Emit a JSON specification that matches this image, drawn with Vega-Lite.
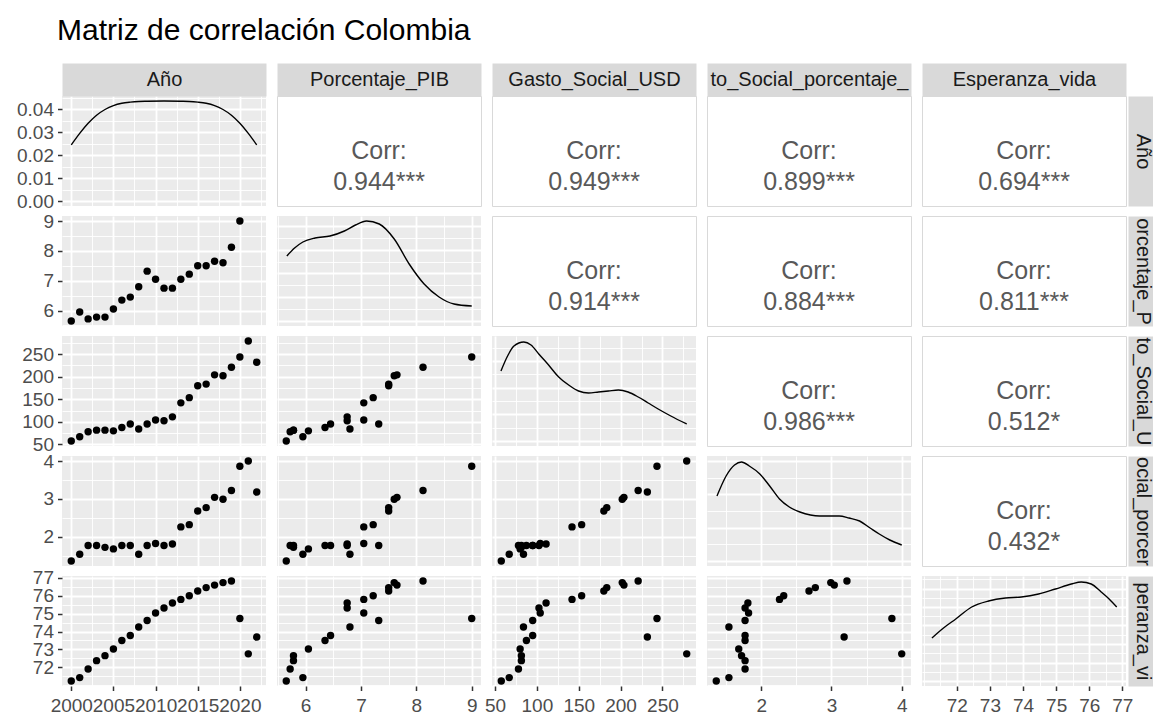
{
  "$schema": "https://vega.github.io/schema/vega-lite/v6.json",
  "background": "white",
  "padding": {"left": 16, "top": 16, "right": 0, "bottom": 0},
  "title": {"text": "Matriz de correlación Colombia", "anchor": "start", "frame": "group", "fontSize": 30, "fontWeight": "normal", "color": "#000000", "offset": 23, "dx": -5},
  "config": {
    "font": "Liberation Sans",
    "view": {"stroke": null, "fill": "#EBEBEB"},
    "axis": {"domain": false, "grid": true, "gridColor": "#FFFFFF", "labelFontSize": 19, "labelColor": "#4D4D4D", "tickColor": "#333333", "tickSize": 4.5, "tickWidth": 1.5, "labelPadding": 4, "labelOverlap": false, "labelFlush": false, "labelBound": false},
    "axisX": {"labelPadding": 6}
  },
  "datasets": {
    "colombia": [
      {"Año": 2000, "Porcentaje_PIB": 5.65, "Gasto_Social_USD": 57.5, "Gasto_Social_porcentaje_PIB": 1.36, "Esperanza_vida": 71.23},
      {"Año": 2001, "Porcentaje_PIB": 5.95, "Gasto_Social_USD": 67, "Gasto_Social_porcentaje_PIB": 1.54, "Esperanza_vida": 71.42},
      {"Año": 2002, "Porcentaje_PIB": 5.72, "Gasto_Social_USD": 78, "Gasto_Social_porcentaje_PIB": 1.77, "Esperanza_vida": 71.9},
      {"Año": 2003, "Porcentaje_PIB": 5.78, "Gasto_Social_USD": 81.5, "Gasto_Social_porcentaje_PIB": 1.77, "Esperanza_vida": 72.37},
      {"Año": 2004, "Porcentaje_PIB": 5.78, "Gasto_Social_USD": 81.5, "Gasto_Social_porcentaje_PIB": 1.72, "Esperanza_vida": 72.65},
      {"Año": 2005, "Porcentaje_PIB": 6.05, "Gasto_Social_USD": 80, "Gasto_Social_porcentaje_PIB": 1.68, "Esperanza_vida": 73.02},
      {"Año": 2006, "Porcentaje_PIB": 6.35, "Gasto_Social_USD": 87.5, "Gasto_Social_porcentaje_PIB": 1.77, "Esperanza_vida": 73.5},
      {"Año": 2007, "Porcentaje_PIB": 6.45, "Gasto_Social_USD": 95, "Gasto_Social_porcentaje_PIB": 1.77, "Esperanza_vida": 73.78},
      {"Año": 2008, "Porcentaje_PIB": 6.8, "Gasto_Social_USD": 84, "Gasto_Social_porcentaje_PIB": 1.54, "Esperanza_vida": 74.25},
      {"Año": 2009, "Porcentaje_PIB": 7.32, "Gasto_Social_USD": 95, "Gasto_Social_porcentaje_PIB": 1.77, "Esperanza_vida": 74.62},
      {"Año": 2010, "Porcentaje_PIB": 7.05, "Gasto_Social_USD": 104, "Gasto_Social_porcentaje_PIB": 1.82, "Esperanza_vida": 75.04},
      {"Año": 2011, "Porcentaje_PIB": 6.75, "Gasto_Social_USD": 102.5, "Gasto_Social_porcentaje_PIB": 1.77, "Esperanza_vida": 75.32},
      {"Año": 2012, "Porcentaje_PIB": 6.75, "Gasto_Social_USD": 111, "Gasto_Social_porcentaje_PIB": 1.81, "Esperanza_vida": 75.6},
      {"Año": 2013, "Porcentaje_PIB": 7.05, "Gasto_Social_USD": 142, "Gasto_Social_porcentaje_PIB": 2.26, "Esperanza_vida": 75.8},
      {"Año": 2014, "Porcentaje_PIB": 7.22, "Gasto_Social_USD": 153.5, "Gasto_Social_porcentaje_PIB": 2.32, "Esperanza_vida": 76.0},
      {"Año": 2015, "Porcentaje_PIB": 7.5, "Gasto_Social_USD": 180, "Gasto_Social_porcentaje_PIB": 2.68, "Esperanza_vida": 76.27},
      {"Año": 2016, "Porcentaje_PIB": 7.5, "Gasto_Social_USD": 183.5, "Gasto_Social_porcentaje_PIB": 2.77, "Esperanza_vida": 76.46},
      {"Año": 2017, "Porcentaje_PIB": 7.65, "Gasto_Social_USD": 204, "Gasto_Social_porcentaje_PIB": 3.04, "Esperanza_vida": 76.6},
      {"Año": 2018, "Porcentaje_PIB": 7.6, "Gasto_Social_USD": 202, "Gasto_Social_porcentaje_PIB": 2.99, "Esperanza_vida": 76.74},
      {"Año": 2019, "Porcentaje_PIB": 8.12, "Gasto_Social_USD": 221, "Gasto_Social_porcentaje_PIB": 3.22, "Esperanza_vida": 76.83},
      {"Año": 2020, "Porcentaje_PIB": 9.0, "Gasto_Social_USD": 243.5, "Gasto_Social_porcentaje_PIB": 3.86, "Esperanza_vida": 74.73},
      {"Año": 2021, "Porcentaje_PIB": null, "Gasto_Social_USD": 279, "Gasto_Social_porcentaje_PIB": 4.0, "Esperanza_vida": 72.75},
      {"Año": 2022, "Porcentaje_PIB": null, "Gasto_Social_USD": 232, "Gasto_Social_porcentaje_PIB": 3.18, "Esperanza_vida": 73.69}
    ],
    "dens_anio": [
      {"valor": 2000, "densidad": 0.0244}, {"valor": 2001, "densidad": 0.0294}, {"valor": 2002, "densidad": 0.0338}, {"valor": 2003, "densidad": 0.0373}, {"valor": 2004, "densidad": 0.0398}, {"valor": 2005, "densidad": 0.0415}, {"valor": 2006, "densidad": 0.0425}, {"valor": 2007, "densidad": 0.043}, {"valor": 2008, "densidad": 0.0433}, {"valor": 2009, "densidad": 0.0434}, {"valor": 2011, "densidad": 0.0435}, {"valor": 2013, "densidad": 0.0434}, {"valor": 2014, "densidad": 0.0433}, {"valor": 2015, "densidad": 0.043}, {"valor": 2016, "densidad": 0.0425}, {"valor": 2017, "densidad": 0.0415}, {"valor": 2018, "densidad": 0.0398}, {"valor": 2019, "densidad": 0.0373}, {"valor": 2020, "densidad": 0.0338}, {"valor": 2021, "densidad": 0.0294}, {"valor": 2022, "densidad": 0.0244}
    ],
    "dens_pib": [
      {"valor": 5.66, "densidad": 0.65}, {"valor": 5.8, "densidad": 0.73}, {"valor": 5.95, "densidad": 0.79}, {"valor": 6.17, "densidad": 0.83}, {"valor": 6.44, "densidad": 0.85}, {"valor": 6.7, "densidad": 0.9}, {"valor": 6.9, "densidad": 0.96}, {"valor": 7.1, "densidad": 1.0}, {"valor": 7.33, "densidad": 0.97}, {"valor": 7.6, "densidad": 0.82}, {"valor": 7.87, "densidad": 0.57}, {"valor": 8.14, "densidad": 0.37}, {"valor": 8.41, "densidad": 0.24}, {"valor": 8.68, "densidad": 0.17}, {"valor": 9.0, "densidad": 0.15}
    ],
    "dens_usd": [
      {"valor": 57.1, "densidad": 0.7}, {"valor": 65, "densidad": 0.85}, {"valor": 72.6, "densidad": 0.95}, {"valor": 84.4, "densidad": 0.99}, {"valor": 93, "densidad": 0.96}, {"valor": 102.3, "densidad": 0.87}, {"valor": 114, "densidad": 0.76}, {"valor": 126.1, "densidad": 0.64}, {"valor": 138, "densidad": 0.56}, {"valor": 149.8, "densidad": 0.5}, {"valor": 161.7, "densidad": 0.48}, {"valor": 173.6, "densidad": 0.49}, {"valor": 185.5, "densidad": 0.5}, {"valor": 197.4, "densidad": 0.51}, {"valor": 209, "densidad": 0.49}, {"valor": 221.1, "densidad": 0.44}, {"valor": 233, "densidad": 0.38}, {"valor": 244.9, "densidad": 0.32}, {"valor": 260, "densidad": 0.25}, {"valor": 279, "densidad": 0.17}
    ],
    "dens_pct": [
      {"valor": 1.37, "densidad": 0.65}, {"valor": 1.5, "densidad": 0.85}, {"valor": 1.62, "densidad": 0.96}, {"valor": 1.72, "densidad": 0.99}, {"valor": 1.83, "densidad": 0.95}, {"valor": 1.98, "densidad": 0.87}, {"valor": 2.12, "densidad": 0.75}, {"valor": 2.26, "densidad": 0.62}, {"valor": 2.4, "densidad": 0.54}, {"valor": 2.55, "densidad": 0.49}, {"valor": 2.7, "densidad": 0.46}, {"valor": 2.83, "densidad": 0.45}, {"valor": 3.11, "densidad": 0.45}, {"valor": 3.25, "densidad": 0.43}, {"valor": 3.4, "densidad": 0.4}, {"valor": 3.55, "densidad": 0.33}, {"valor": 3.68, "densidad": 0.27}, {"valor": 3.83, "densidad": 0.21}, {"valor": 4.0, "densidad": 0.16}
    ],
    "dens_esp": [
      {"valor": 71.25, "densidad": 0.43}, {"valor": 71.6, "densidad": 0.53}, {"valor": 71.97, "densidad": 0.62}, {"valor": 72.45, "densidad": 0.74}, {"valor": 72.96, "densidad": 0.8}, {"valor": 73.47, "densidad": 0.83}, {"valor": 73.95, "densidad": 0.84}, {"valor": 74.47, "densidad": 0.87}, {"valor": 74.98, "densidad": 0.92}, {"valor": 75.46, "densidad": 0.97}, {"valor": 75.76, "densidad": 0.99}, {"valor": 76.06, "densidad": 0.97}, {"valor": 76.36, "densidad": 0.89}, {"valor": 76.6, "densidad": 0.82}, {"valor": 76.83, "densidad": 0.74}
    ],
    "correlaciones": [
      {"fila": "Año", "columna": "Porcentaje_PIB", "texto": "Corr:\n0.944***"},
      {"fila": "Año", "columna": "Gasto_Social_USD", "texto": "Corr:\n0.949***"},
      {"fila": "Año", "columna": "Gasto_Social_porcentaje_PIB", "texto": "Corr:\n0.899***"},
      {"fila": "Año", "columna": "Esperanza_vida", "texto": "Corr:\n0.694***"},
      {"fila": "Porcentaje_PIB", "columna": "Gasto_Social_USD", "texto": "Corr:\n0.914***"},
      {"fila": "Porcentaje_PIB", "columna": "Gasto_Social_porcentaje_PIB", "texto": "Corr:\n0.884***"},
      {"fila": "Porcentaje_PIB", "columna": "Esperanza_vida", "texto": "Corr:\n0.811***"},
      {"fila": "Gasto_Social_USD", "columna": "Gasto_Social_porcentaje_PIB", "texto": "Corr:\n0.986***"},
      {"fila": "Gasto_Social_USD", "columna": "Esperanza_vida", "texto": "Corr:\n0.512*"},
      {"fila": "Gasto_Social_porcentaje_PIB", "columna": "Esperanza_vida", "texto": "Corr:\n0.432*"}
    ]
  },
  "columns": 5,
  "spacing": {"row": 10, "column": 11},
  "bounds": "flush",
  "concat": [
    {"width": 204, "height": 110, "data": {"name": "dens_anio"},
     "mark": {"type": "line", "color": "black", "strokeWidth": 1.4, "interpolate": "monotone"},
     "encoding": {
       "x": {"field": "valor", "type": "quantitative", "scale": {"domain": [1998.9, 2023.1], "nice": false, "zero": false}, "axis": {"orient": "top", "title": "Año", "labels": false, "ticks": false, "values": [2000, 2002.5, 2005, 2007.5, 2010, 2012.5, 2015, 2017.5, 2020, 2022.5], "gridWidth": {"condition": {"test": "datum.value % 5 === 0", "value": 1.8}, "value": 0.9}, "domain": true, "domainColor": "#D9D9D9", "domainWidth": 33, "offset": 16.5, "titleFontSize": 20, "titleFontWeight": "normal", "titleColor": "#1A1A1A", "titleBaseline": "middle", "titleY": 0, "titlePadding": 0}},
       "y": {"field": "densidad", "type": "quantitative", "scale": {"domain": [-0.002175, 0.045675], "nice": false, "zero": false}, "axis": {"title": null, "values": [0, 0.005, 0.01, 0.015, 0.02, 0.025, 0.03, 0.035, 0.04, 0.045], "format": ".2f", "labelExpr": "round(datum.value * 1000) % 10 === 0 ? datum.label : ''", "tickOpacity": {"condition": {"test": "round(datum.value * 1000) % 10 === 0", "value": 1}, "value": 0}, "gridWidth": {"condition": {"test": "round(datum.value * 1000) % 10 === 0", "value": 1.8}, "value": 0.9}}}
     }},
    {"width": 204, "height": 110, "view": {"fill": "white", "stroke": "#D9D9D9"}, "data": {"name": "correlaciones"}, "transform": [{"filter": "datum.fila === 'Año' && datum.columna === 'Porcentaje_PIB'"}],
     "mark": {"type": "text", "fontSize": 25, "lineHeight": 31, "lineBreak": "\n", "color": "#595959"},
     "encoding": {"text": {"field": "texto", "type": "nominal"},
       "x": {"field": "columna", "type": "nominal", "axis": {"orient": "top", "title": "Porcentaje_PIB", "labels": false, "ticks": false, "grid": false, "domain": true, "domainColor": "#D9D9D9", "domainWidth": 33, "offset": 16.5, "titleFontSize": 20, "titleFontWeight": "normal", "titleColor": "#1A1A1A", "titleBaseline": "middle", "titleY": 0, "titlePadding": 0}}}},
    {"width": 204, "height": 110, "view": {"fill": "white", "stroke": "#D9D9D9"}, "data": {"name": "correlaciones"}, "transform": [{"filter": "datum.fila === 'Año' && datum.columna === 'Gasto_Social_USD'"}],
     "mark": {"type": "text", "fontSize": 25, "lineHeight": 31, "lineBreak": "\n", "color": "#595959"},
     "encoding": {"text": {"field": "texto", "type": "nominal"},
       "x": {"field": "columna", "type": "nominal", "axis": {"orient": "top", "title": "Gasto_Social_USD", "labels": false, "ticks": false, "grid": false, "domain": true, "domainColor": "#D9D9D9", "domainWidth": 33, "offset": 16.5, "titleFontSize": 20, "titleFontWeight": "normal", "titleColor": "#1A1A1A", "titleBaseline": "middle", "titleY": 0, "titlePadding": 0}}}},
    {"width": 204, "height": 110, "view": {"fill": "white", "stroke": "#D9D9D9"}, "data": {"name": "correlaciones"}, "transform": [{"filter": "datum.fila === 'Año' && datum.columna === 'Gasto_Social_porcentaje_PIB'"}],
     "mark": {"type": "text", "fontSize": 25, "lineHeight": 31, "lineBreak": "\n", "color": "#595959"},
     "encoding": {"text": {"field": "texto", "type": "nominal"},
       "x": {"field": "columna", "type": "nominal", "axis": {"orient": "top", "title": "to_Social_porcentaje_", "labels": false, "ticks": false, "grid": false, "domain": true, "domainColor": "#D9D9D9", "domainWidth": 33, "offset": 16.5, "titleFontSize": 20, "titleFontWeight": "normal", "titleColor": "#1A1A1A", "titleBaseline": "middle", "titleY": 0, "titlePadding": 0}}}},
    {"width": 204, "height": 110, "view": {"fill": "white", "stroke": "#D9D9D9"}, "data": {"name": "correlaciones"}, "transform": [{"filter": "datum.fila === 'Año' && datum.columna === 'Esperanza_vida'"}],
     "mark": {"type": "text", "fontSize": 25, "lineHeight": 31, "lineBreak": "\n", "color": "#595959"},
     "encoding": {"text": {"field": "texto", "type": "nominal"},
       "x": {"field": "columna", "type": "nominal", "axis": {"orient": "top", "title": "Esperanza_vida", "labels": false, "ticks": false, "grid": false, "domain": true, "domainColor": "#D9D9D9", "domainWidth": 33, "offset": 16.5, "titleFontSize": 20, "titleFontWeight": "normal", "titleColor": "#1A1A1A", "titleBaseline": "middle", "titleY": 0, "titlePadding": 0}},
       "y": {"field": "fila", "type": "nominal", "axis": {"orient": "right", "title": "Año", "labels": false, "ticks": false, "grid": false, "domain": true, "domainColor": "#D9D9D9", "domainWidth": 25, "offset": 14.5, "titleFontSize": 20, "titleFontWeight": "normal", "titleColor": "#1A1A1A", "titleAngle": 90, "titleBaseline": "middle", "titleAlign": "center", "titleX": 2, "titlePadding": 0}}}},

    {"width": 204, "height": 110, "data": {"name": "colombia"},
     "mark": {"type": "circle", "size": 55, "color": "black", "opacity": 1},
     "encoding": {
       "x": {"field": "Año", "type": "quantitative", "scale": {"domain": [1998.9, 2023.1], "nice": false, "zero": false}, "axis": {"title": null, "labels": false, "ticks": false, "values": [2000, 2002.5, 2005, 2007.5, 2010, 2012.5, 2015, 2017.5, 2020, 2022.5], "gridWidth": {"condition": {"test": "datum.value % 5 === 0", "value": 1.8}, "value": 0.9}}},
       "y": {"field": "Porcentaje_PIB", "type": "quantitative", "scale": {"domain": [5.4825, 9.1675], "nice": false, "zero": false}, "axis": {"title": null, "values": [5.5, 6, 6.5, 7, 7.5, 8, 8.5, 9], "labelExpr": "datum.value === round(datum.value) ? format(datum.value, 'd') : ''", "tickOpacity": {"condition": {"test": "datum.value === round(datum.value)", "value": 1}, "value": 0}, "gridWidth": {"condition": {"test": "datum.value === round(datum.value)", "value": 1.8}, "value": 0.9}}}
     }},
    {"width": 204, "height": 110, "data": {"name": "dens_pib"},
     "mark": {"type": "line", "color": "black", "strokeWidth": 1.4, "interpolate": "monotone"},
     "encoding": {
       "x": {"field": "valor", "type": "quantitative", "scale": {"domain": [5.4825, 9.1675], "nice": false, "zero": false}, "axis": {"title": null, "labels": false, "ticks": false, "values": [5.5, 6, 6.5, 7, 7.5, 8, 8.5, 9], "gridWidth": {"condition": {"test": "datum.value === round(datum.value)", "value": 1.8}, "value": 0.9}}},
       "y": {"field": "densidad", "type": "quantitative", "scale": {"domain": [-0.05, 1.05], "nice": false, "zero": false}, "axis": {"title": null, "labels": false, "ticks": false, "values": [0, 0.119, 0.238, 0.357, 0.476, 0.595, 0.714, 0.833, 0.952], "gridWidth": {"condition": {"test": "round(datum.value / 0.119) % 2 === 0", "value": 1.8}, "value": 0.9}}}
     }},
    {"width": 204, "height": 110, "view": {"fill": "white", "stroke": "#D9D9D9"}, "data": {"name": "correlaciones"}, "transform": [{"filter": "datum.fila === 'Porcentaje_PIB' && datum.columna === 'Gasto_Social_USD'"}],
     "mark": {"type": "text", "fontSize": 25, "lineHeight": 31, "lineBreak": "\n", "color": "#595959"},
     "encoding": {"text": {"field": "texto", "type": "nominal"}}},
    {"width": 204, "height": 110, "view": {"fill": "white", "stroke": "#D9D9D9"}, "data": {"name": "correlaciones"}, "transform": [{"filter": "datum.fila === 'Porcentaje_PIB' && datum.columna === 'Gasto_Social_porcentaje_PIB'"}],
     "mark": {"type": "text", "fontSize": 25, "lineHeight": 31, "lineBreak": "\n", "color": "#595959"},
     "encoding": {"text": {"field": "texto", "type": "nominal"}}},
    {"width": 204, "height": 110, "view": {"fill": "white", "stroke": "#D9D9D9"}, "data": {"name": "correlaciones"}, "transform": [{"filter": "datum.fila === 'Porcentaje_PIB' && datum.columna === 'Esperanza_vida'"}],
     "mark": {"type": "text", "fontSize": 25, "lineHeight": 31, "lineBreak": "\n", "color": "#595959"},
     "encoding": {"text": {"field": "texto", "type": "nominal"},
       "y": {"field": "fila", "type": "nominal", "axis": {"orient": "right", "title": "orcentaje_P", "labels": false, "ticks": false, "grid": false, "domain": true, "domainColor": "#D9D9D9", "domainWidth": 25, "offset": 14.5, "titleFontSize": 20, "titleFontWeight": "normal", "titleColor": "#1A1A1A", "titleAngle": 90, "titleBaseline": "middle", "titleAlign": "center", "titleX": 2, "titlePadding": 0}}}},

    {"width": 204, "height": 110, "data": {"name": "colombia"},
     "mark": {"type": "circle", "size": 55, "color": "black", "opacity": 1},
     "encoding": {
       "x": {"field": "Año", "type": "quantitative", "scale": {"domain": [1998.9, 2023.1], "nice": false, "zero": false}, "axis": {"title": null, "labels": false, "ticks": false, "values": [2000, 2002.5, 2005, 2007.5, 2010, 2012.5, 2015, 2017.5, 2020, 2022.5], "gridWidth": {"condition": {"test": "datum.value % 5 === 0", "value": 1.8}, "value": 0.9}}},
       "y": {"field": "Gasto_Social_USD", "type": "quantitative", "scale": {"domain": [46.4, 290.1], "nice": false, "zero": false}, "axis": {"title": null, "values": [50, 75, 100, 125, 150, 175, 200, 225, 250, 275], "format": "d", "labelExpr": "datum.value % 50 === 0 ? datum.label : ''", "tickOpacity": {"condition": {"test": "datum.value % 50 === 0", "value": 1}, "value": 0}, "gridWidth": {"condition": {"test": "datum.value % 50 === 0", "value": 1.8}, "value": 0.9}}}
     }},
    {"width": 204, "height": 110, "data": {"name": "colombia"},
     "mark": {"type": "circle", "size": 55, "color": "black", "opacity": 1},
     "encoding": {
       "x": {"field": "Porcentaje_PIB", "type": "quantitative", "scale": {"domain": [5.4825, 9.1675], "nice": false, "zero": false}, "axis": {"title": null, "labels": false, "ticks": false, "values": [5.5, 6, 6.5, 7, 7.5, 8, 8.5, 9], "gridWidth": {"condition": {"test": "datum.value === round(datum.value)", "value": 1.8}, "value": 0.9}}},
       "y": {"field": "Gasto_Social_USD", "type": "quantitative", "scale": {"domain": [46.4, 290.1], "nice": false, "zero": false}, "axis": {"title": null, "labels": false, "ticks": false, "values": [50, 75, 100, 125, 150, 175, 200, 225, 250, 275], "gridWidth": {"condition": {"test": "datum.value % 50 === 0", "value": 1.8}, "value": 0.9}}}
     }},
    {"width": 204, "height": 110, "data": {"name": "dens_usd"},
     "mark": {"type": "line", "color": "black", "strokeWidth": 1.4, "interpolate": "monotone"},
     "encoding": {
       "x": {"field": "valor", "type": "quantitative", "scale": {"domain": [46.4, 290.1], "nice": false, "zero": false}, "axis": {"title": null, "labels": false, "ticks": false, "values": [50, 75, 100, 125, 150, 175, 200, 225, 250, 275], "gridWidth": {"condition": {"test": "datum.value % 50 === 0", "value": 1.8}, "value": 0.9}}},
       "y": {"field": "densidad", "type": "quantitative", "scale": {"domain": [-0.05, 1.05], "nice": false, "zero": false}, "axis": {"title": null, "labels": false, "ticks": false, "values": [0, 0.1333, 0.2667, 0.4, 0.5333, 0.6667, 0.8, 0.9333], "gridWidth": {"condition": {"test": "round(datum.value / 0.1333) % 2 === 0", "value": 1.8}, "value": 0.9}}}
     }},
    {"width": 204, "height": 110, "view": {"fill": "white", "stroke": "#D9D9D9"}, "data": {"name": "correlaciones"}, "transform": [{"filter": "datum.fila === 'Gasto_Social_USD' && datum.columna === 'Gasto_Social_porcentaje_PIB'"}],
     "mark": {"type": "text", "fontSize": 25, "lineHeight": 31, "lineBreak": "\n", "color": "#595959"},
     "encoding": {"text": {"field": "texto", "type": "nominal"}}},
    {"width": 204, "height": 110, "view": {"fill": "white", "stroke": "#D9D9D9"}, "data": {"name": "correlaciones"}, "transform": [{"filter": "datum.fila === 'Gasto_Social_USD' && datum.columna === 'Esperanza_vida'"}],
     "mark": {"type": "text", "fontSize": 25, "lineHeight": 31, "lineBreak": "\n", "color": "#595959"},
     "encoding": {"text": {"field": "texto", "type": "nominal"},
       "y": {"field": "fila", "type": "nominal", "axis": {"orient": "right", "title": "to_Social_U", "labels": false, "ticks": false, "grid": false, "domain": true, "domainColor": "#D9D9D9", "domainWidth": 25, "offset": 14.5, "titleFontSize": 20, "titleFontWeight": "normal", "titleColor": "#1A1A1A", "titleAngle": 90, "titleBaseline": "middle", "titleAlign": "center", "titleX": 2, "titlePadding": 0}}}},

    {"width": 204, "height": 110, "data": {"name": "colombia"},
     "mark": {"type": "circle", "size": 55, "color": "black", "opacity": 1},
     "encoding": {
       "x": {"field": "Año", "type": "quantitative", "scale": {"domain": [1998.9, 2023.1], "nice": false, "zero": false}, "axis": {"title": null, "labels": false, "ticks": false, "values": [2000, 2002.5, 2005, 2007.5, 2010, 2012.5, 2015, 2017.5, 2020, 2022.5], "gridWidth": {"condition": {"test": "datum.value % 5 === 0", "value": 1.8}, "value": 0.9}}},
       "y": {"field": "Gasto_Social_porcentaje_PIB", "type": "quantitative", "scale": {"domain": [1.228, 4.132], "nice": false, "zero": false}, "axis": {"title": null, "values": [1.5, 2, 2.5, 3, 3.5, 4], "labelExpr": "datum.value === round(datum.value) ? format(datum.value, 'd') : ''", "tickOpacity": {"condition": {"test": "datum.value === round(datum.value)", "value": 1}, "value": 0}, "gridWidth": {"condition": {"test": "datum.value === round(datum.value)", "value": 1.8}, "value": 0.9}}}
     }},
    {"width": 204, "height": 110, "data": {"name": "colombia"},
     "mark": {"type": "circle", "size": 55, "color": "black", "opacity": 1},
     "encoding": {
       "x": {"field": "Porcentaje_PIB", "type": "quantitative", "scale": {"domain": [5.4825, 9.1675], "nice": false, "zero": false}, "axis": {"title": null, "labels": false, "ticks": false, "values": [5.5, 6, 6.5, 7, 7.5, 8, 8.5, 9], "gridWidth": {"condition": {"test": "datum.value === round(datum.value)", "value": 1.8}, "value": 0.9}}},
       "y": {"field": "Gasto_Social_porcentaje_PIB", "type": "quantitative", "scale": {"domain": [1.228, 4.132], "nice": false, "zero": false}, "axis": {"title": null, "labels": false, "ticks": false, "values": [1.5, 2, 2.5, 3, 3.5, 4], "gridWidth": {"condition": {"test": "datum.value === round(datum.value)", "value": 1.8}, "value": 0.9}}}
     }},
    {"width": 204, "height": 110, "data": {"name": "colombia"},
     "mark": {"type": "circle", "size": 55, "color": "black", "opacity": 1},
     "encoding": {
       "x": {"field": "Gasto_Social_USD", "type": "quantitative", "scale": {"domain": [46.4, 290.1], "nice": false, "zero": false}, "axis": {"title": null, "labels": false, "ticks": false, "values": [50, 75, 100, 125, 150, 175, 200, 225, 250, 275], "gridWidth": {"condition": {"test": "datum.value % 50 === 0", "value": 1.8}, "value": 0.9}}},
       "y": {"field": "Gasto_Social_porcentaje_PIB", "type": "quantitative", "scale": {"domain": [1.228, 4.132], "nice": false, "zero": false}, "axis": {"title": null, "labels": false, "ticks": false, "values": [1.5, 2, 2.5, 3, 3.5, 4], "gridWidth": {"condition": {"test": "datum.value === round(datum.value)", "value": 1.8}, "value": 0.9}}}
     }},
    {"width": 204, "height": 110, "data": {"name": "dens_pct"},
     "mark": {"type": "line", "color": "black", "strokeWidth": 1.4, "interpolate": "monotone"},
     "encoding": {
       "x": {"field": "valor", "type": "quantitative", "scale": {"domain": [1.228, 4.132], "nice": false, "zero": false}, "axis": {"title": null, "labels": false, "ticks": false, "values": [1.5, 2, 2.5, 3, 3.5, 4], "gridWidth": {"condition": {"test": "datum.value === round(datum.value)", "value": 1.8}, "value": 0.9}}},
       "y": {"field": "densidad", "type": "quantitative", "scale": {"domain": [-0.05, 1.05], "nice": false, "zero": false}, "axis": {"title": null, "labels": false, "ticks": false, "values": [0, 0.1667, 0.3333, 0.5, 0.6667, 0.8333, 1], "gridWidth": {"condition": {"test": "round(datum.value / 0.1667) % 2 === 0", "value": 1.8}, "value": 0.9}}}
     }},
    {"width": 204, "height": 110, "view": {"fill": "white", "stroke": "#D9D9D9"}, "data": {"name": "correlaciones"}, "transform": [{"filter": "datum.fila === 'Gasto_Social_porcentaje_PIB' && datum.columna === 'Esperanza_vida'"}],
     "mark": {"type": "text", "fontSize": 25, "lineHeight": 31, "lineBreak": "\n", "color": "#595959"},
     "encoding": {"text": {"field": "texto", "type": "nominal"},
       "y": {"field": "fila", "type": "nominal", "axis": {"orient": "right", "title": "ocial_porcer", "labels": false, "ticks": false, "grid": false, "domain": true, "domainColor": "#D9D9D9", "domainWidth": 25, "offset": 14.5, "titleFontSize": 20, "titleFontWeight": "normal", "titleColor": "#1A1A1A", "titleAngle": 90, "titleBaseline": "middle", "titleAlign": "center", "titleX": 2, "titlePadding": 0}}}},

    {"width": 204, "height": 110, "data": {"name": "colombia"},
     "mark": {"type": "circle", "size": 55, "color": "black", "opacity": 1},
     "encoding": {
       "x": {"field": "Año", "type": "quantitative", "scale": {"domain": [1998.9, 2023.1], "nice": false, "zero": false}, "axis": {"title": null, "values": [2000, 2002.5, 2005, 2007.5, 2010, 2012.5, 2015, 2017.5, 2020, 2022.5], "format": "d", "labelExpr": "datum.value % 5 === 0 ? datum.label : ''", "tickOpacity": {"condition": {"test": "datum.value % 5 === 0", "value": 1}, "value": 0}, "gridWidth": {"condition": {"test": "datum.value % 5 === 0", "value": 1.8}, "value": 0.9}}},
       "y": {"field": "Esperanza_vida", "type": "quantitative", "scale": {"domain": [70.95, 77.11], "nice": false, "zero": false}, "axis": {"title": null, "values": [71, 71.5, 72, 72.5, 73, 73.5, 74, 74.5, 75, 75.5, 76, 76.5, 77], "labelExpr": "datum.value === round(datum.value) && datum.value > 71 ? format(datum.value, 'd') : ''", "tickOpacity": {"condition": {"test": "datum.value === round(datum.value) && datum.value > 71", "value": 1}, "value": 0}, "gridWidth": {"condition": {"test": "datum.value === round(datum.value) && datum.value > 71", "value": 1.8}, "value": 0.9}}}
     }},
    {"width": 204, "height": 110, "data": {"name": "colombia"},
     "mark": {"type": "circle", "size": 55, "color": "black", "opacity": 1},
     "encoding": {
       "x": {"field": "Porcentaje_PIB", "type": "quantitative", "scale": {"domain": [5.4825, 9.1675], "nice": false, "zero": false}, "axis": {"title": null, "values": [5.5, 6, 6.5, 7, 7.5, 8, 8.5, 9], "labelExpr": "datum.value === round(datum.value) ? format(datum.value, 'd') : ''", "tickOpacity": {"condition": {"test": "datum.value === round(datum.value)", "value": 1}, "value": 0}, "gridWidth": {"condition": {"test": "datum.value === round(datum.value)", "value": 1.8}, "value": 0.9}}},
       "y": {"field": "Esperanza_vida", "type": "quantitative", "scale": {"domain": [70.95, 77.11], "nice": false, "zero": false}, "axis": {"title": null, "labels": false, "ticks": false, "values": [71, 71.5, 72, 72.5, 73, 73.5, 74, 74.5, 75, 75.5, 76, 76.5, 77], "gridWidth": {"condition": {"test": "datum.value === round(datum.value) && datum.value > 71", "value": 1.8}, "value": 0.9}}}
     }},
    {"width": 204, "height": 110, "data": {"name": "colombia"},
     "mark": {"type": "circle", "size": 55, "color": "black", "opacity": 1},
     "encoding": {
       "x": {"field": "Gasto_Social_USD", "type": "quantitative", "scale": {"domain": [46.4, 290.1], "nice": false, "zero": false}, "axis": {"title": null, "values": [50, 75, 100, 125, 150, 175, 200, 225, 250, 275], "format": "d", "labelExpr": "datum.value % 50 === 0 ? datum.label : ''", "tickOpacity": {"condition": {"test": "datum.value % 50 === 0", "value": 1}, "value": 0}, "gridWidth": {"condition": {"test": "datum.value % 50 === 0", "value": 1.8}, "value": 0.9}}},
       "y": {"field": "Esperanza_vida", "type": "quantitative", "scale": {"domain": [70.95, 77.11], "nice": false, "zero": false}, "axis": {"title": null, "labels": false, "ticks": false, "values": [71, 71.5, 72, 72.5, 73, 73.5, 74, 74.5, 75, 75.5, 76, 76.5, 77], "gridWidth": {"condition": {"test": "datum.value === round(datum.value) && datum.value > 71", "value": 1.8}, "value": 0.9}}}
     }},
    {"width": 204, "height": 110, "data": {"name": "colombia"},
     "mark": {"type": "circle", "size": 55, "color": "black", "opacity": 1},
     "encoding": {
       "x": {"field": "Gasto_Social_porcentaje_PIB", "type": "quantitative", "scale": {"domain": [1.228, 4.132], "nice": false, "zero": false}, "axis": {"title": null, "values": [1.5, 2, 2.5, 3, 3.5, 4], "labelExpr": "datum.value === round(datum.value) ? format(datum.value, 'd') : ''", "tickOpacity": {"condition": {"test": "datum.value === round(datum.value)", "value": 1}, "value": 0}, "gridWidth": {"condition": {"test": "datum.value === round(datum.value)", "value": 1.8}, "value": 0.9}}},
       "y": {"field": "Esperanza_vida", "type": "quantitative", "scale": {"domain": [70.95, 77.11], "nice": false, "zero": false}, "axis": {"title": null, "labels": false, "ticks": false, "values": [71, 71.5, 72, 72.5, 73, 73.5, 74, 74.5, 75, 75.5, 76, 76.5, 77], "gridWidth": {"condition": {"test": "datum.value === round(datum.value) && datum.value > 71", "value": 1.8}, "value": 0.9}}}
     }},
    {"width": 204, "height": 110, "data": {"name": "dens_esp"},
     "mark": {"type": "line", "color": "black", "strokeWidth": 1.4, "interpolate": "monotone"},
     "encoding": {
       "x": {"field": "valor", "type": "quantitative", "scale": {"domain": [70.95, 77.11], "nice": false, "zero": false}, "axis": {"title": null, "values": [71, 71.5, 72, 72.5, 73, 73.5, 74, 74.5, 75, 75.5, 76, 76.5, 77], "labelExpr": "datum.value === round(datum.value) && datum.value > 71 ? format(datum.value, 'd') : ''", "tickOpacity": {"condition": {"test": "datum.value === round(datum.value) && datum.value > 71", "value": 1}, "value": 0}, "gridWidth": {"condition": {"test": "datum.value === round(datum.value) && datum.value > 71", "value": 1.8}, "value": 0.9}}},
       "y": {"field": "densidad", "type": "quantitative", "scale": {"domain": [-0.05, 1.05], "nice": false, "zero": false}, "axis": {"orient": "right", "title": "peranza_vi", "labels": false, "ticks": false, "values": [0, 0.0925, 0.185, 0.2775, 0.37, 0.4625, 0.555, 0.6475, 0.74, 0.8325, 0.925, 1.0175], "gridWidth": {"condition": {"test": "round(datum.value / 0.0925) % 2 === 0", "value": 1.8}, "value": 0.9}, "domain": true, "domainColor": "#D9D9D9", "domainWidth": 25, "offset": 14.5, "titleFontSize": 20, "titleFontWeight": "normal", "titleColor": "#1A1A1A", "titleAngle": 90, "titleBaseline": "middle", "titleAlign": "center", "titleX": 2, "titlePadding": 0}}
     }}
  ]
}
